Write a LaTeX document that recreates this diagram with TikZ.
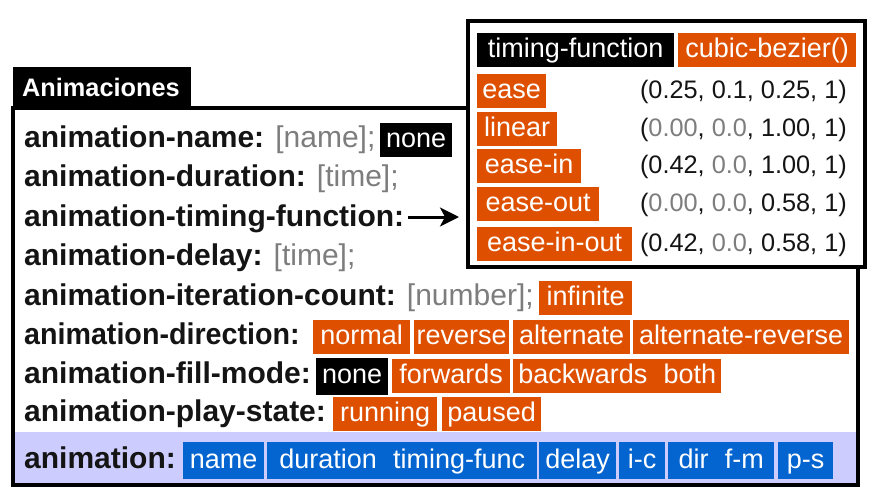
\documentclass[tikz,border=0pt]{standalone}
\usepackage{fontspec}
\setmainfont{Liberation Sans}
\usetikzlibrary{arrows.meta}
\definecolor{orng}{RGB}{222,80,0}
\definecolor{blu}{RGB}{4,100,208}
\definecolor{lav}{RGB}{204,204,255}
\definecolor{graytxt}{RGB}{125,125,125}
\definecolor{dark}{RGB}{20,20,20}
\begin{document}
\begin{tikzpicture}[x=1pt,y=-1pt,
  lbl/.style={anchor=base west, inner sep=0pt, font=\fontsize{30}{36}\selectfont, text=dark},
  tag/.style={anchor=base west, inner xsep=0pt, inner ysep=0pt, text height=24pt, text depth=10pt, font=\fontsize{27}{32}\selectfont, text=white},
  obox/.style={tag, fill=orng},
  kbox/.style={tag, fill=black},
  bbox/.style={tag, fill=blu, text height=26pt, text depth=11pt},
  tup/.style={anchor=base east, inner sep=0pt, font=\fontsize{25.3}{30}\selectfont, text=dark},
  frame/.style={line width=3.5pt, draw=black},
  arr/.style={draw=black, line width=3pt, arrows={-Stealth[length=19pt,width=19pt,inset=5pt]}}]
\useasboundingbox (0,0) rectangle (874,501);

% main box
\fill[white] (13,108) rectangle (858,485);
\fill[lav] (13,432) rectangle (858,485);
\draw[frame] (13,108) rectangle (858,485);
\fill[black] (13,67) rectangle (191,108);
\node[anchor=base west, inner sep=0pt, text=white, font=\fontsize{25.3}{30}\selectfont\bfseries] (tab) at (22,96) {Animaciones};

% rows
\node[lbl] (r1) at (24,147) {\textbf{animation-name:} \textcolor{graytxt}{[name];}};
\node[kbox, minimum width=72pt] (nm) at (380,147) {none};
\node[lbl] (r2) at (24,186) {\textbf{animation-duration:} \textcolor{graytxt}{[time];}};
\node[lbl] (r3) at (24,226) {\textbf{animation-timing-function:}};
\node[lbl] (r4) at (24,265) {\textbf{animation-delay:} \textcolor{graytxt}{[time];}};
\node[lbl] (r5) at (24,305) {\textbf{animation-iteration-count:} \textcolor{graytxt}{[number];}};
\node[obox, minimum width=93pt] (inf) at (539,305) {infinite};
\node[lbl, xscale=0.955] (r6) at (24,344) {\textbf{animation-direction:}};
\node[obox, minimum width=97pt] (d1) at (313,344) {normal};
\node[obox, minimum width=95pt] (d2) at (414,344) {reverse};
\node[obox, minimum width=117pt] (d3) at (513,344) {alternate};
\node[obox, minimum width=216pt] (d4) at (633,344) {alternate-reverse};
\node[lbl] (r7) at (24,383) {\textbf{animation-fill-mode:}};
\node[kbox, minimum width=72pt, text height=25pt, text depth=12pt] (f1) at (316,383) {none};
\node[obox, minimum width=118pt] (f2) at (392,383) {forwards};
\node[obox, minimum width=208pt] (f3) at (513,383) {backwards\hspace{0.6em}both};
\node[lbl] (r8) at (24,421) {\textbf{animation-play-state:}};
\node[obox, minimum width=104pt] (p1) at (333,421) {running};
\node[obox, minimum width=99pt] (p2) at (442,421) {paused};
\node[lbl] (r9) at (24,468) {\textbf{animation:}};
\node[bbox, minimum width=81pt] (b1) at (183,468) {name};
\node[bbox, minimum width=270pt] (b2) at (267,468) {duration\hspace{0.6em}timing-func};
\node[bbox, minimum width=77pt] (b3) at (539,468) {delay};
\node[bbox, minimum width=46pt] (b4) at (619,468) {i-c};
\node[bbox, minimum width=106pt] (b5) at (668,468) {dir\hspace{0.6em}f-m};
\node[bbox, minimum width=55pt] (b6) at (778,468) {p-s};

% inset
\draw[frame, fill=white] (468,21) rectangle (865,267);
\node[kbox, minimum width=197pt] (tf) at (477,57) {timing-function};
\node[obox, minimum width=178pt] (cb) at (678,57) {cubic-bezier()};
\node[obox, minimum width=69pt] (e1) at (477,98) {ease};
\node[obox, minimum width=80pt] (e2) at (477,136) {linear};
\node[obox, minimum width=104pt] (e3) at (477,173) {ease-in};
\node[obox, minimum width=122pt] (e4) at (477,211) {ease-out};
\node[obox, minimum width=155pt] (e5) at (477,251) {ease-in-out};
\node[tup] (t1) at (847,98) {(0.25, 0.1, 0.25, 1)};
\node[tup] (t2) at (847,136) {(\textcolor{graytxt}{0.00}, \textcolor{graytxt}{0.0}, 1.00, 1)};
\node[tup] (t3) at (847,173) {(0.42, \textcolor{graytxt}{0.0}, 1.00, 1)};
\node[tup] (t4) at (847,211) {(\textcolor{graytxt}{0.00}, \textcolor{graytxt}{0.0}, 0.58, 1)};
\node[tup] (t5) at (847,251) {(0.42, \textcolor{graytxt}{0.0}, 0.58, 1)};

% arrow
\coordinate (tip) at (459,217);
\coordinate (tail) at (408,217);
\draw[arr] (tail) -- (tip);
\end{tikzpicture}
\end{document}
